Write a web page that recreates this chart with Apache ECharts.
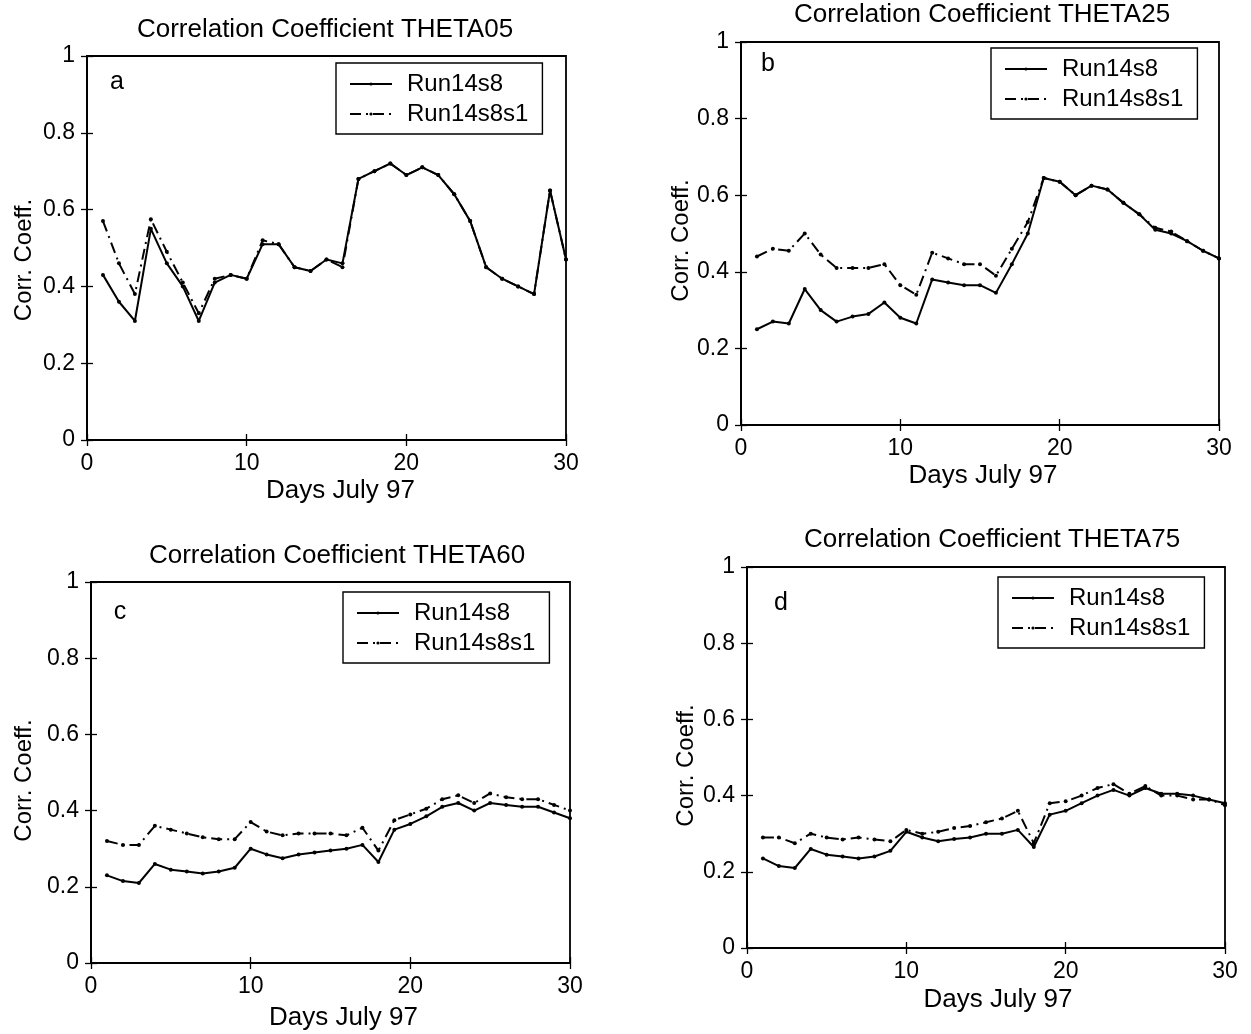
<!DOCTYPE html>
<html>
<head>
<meta charset="utf-8">
<script src="https://cdn.jsdelivr.net/npm/echarts@6/dist/echarts.min.js"></script>
<style>
  html, body { margin: 0; padding: 0; background: #fff; }
  #chart { width: 1251px; height: 1034px; }
</style>
</head>
<body>
<div id="chart"></div>
<script>
// Days of July 1997
const days = [1,2,3,4,5,6,7,8,9,10,11,12,13,14,15,16,17,18,19,20,21,22,23,24,25,26,27,28,29,30];
const xTicks = [0, 10, 20, 30];
const seriesNames = ['Run14s8', 'Run14s8s1'];
const panelTitles = ['Correlation Coefficient THETA05', 'Correlation Coefficient THETA25',
                     'Correlation Coefficient THETA60', 'Correlation Coefficient THETA75'];
const panelLetters = ['a', 'b', 'c', 'd'];

// THETA05
const theta05Run = [0.43,0.36,0.31,0.55,0.46,0.40,0.31,0.41,0.43,0.42,0.51,0.51,0.45,0.44,0.47,0.46,0.68,0.70,0.72,0.69,0.71,0.69,0.64,0.57,0.45,0.42,0.40,0.38,0.65,0.47];
const theta05RunS1 = [0.57,0.46,0.38,0.575,0.49,0.41,0.33,0.42,0.43,0.42,0.52,0.51,0.45,0.44,0.47,0.45,0.68,0.70,0.72,0.69,0.71,0.69,0.64,0.57,0.45,0.42,0.40,0.38,0.65,0.47];
// THETA25
const theta25Run = [0.25,0.27,0.265,0.355,0.30,0.27,0.283,0.29,0.32,0.28,0.265,0.38,0.372,0.365,0.365,0.345,0.42,0.50,0.645,0.635,0.60,0.625,0.615,0.58,0.55,0.51,0.50,0.48,0.455,0.435];
const theta25RunS1 = [0.44,0.46,0.455,0.50,0.445,0.41,0.41,0.41,0.42,0.365,0.34,0.45,0.435,0.42,0.42,0.39,0.46,0.53,0.645,0.635,0.60,0.625,0.615,0.58,0.55,0.515,0.505,0.48,0.455,0.435];
// THETA60
const theta60Run = [0.23,0.215,0.21,0.26,0.245,0.24,0.235,0.24,0.25,0.30,0.285,0.275,0.285,0.29,0.295,0.30,0.31,0.265,0.35,0.365,0.385,0.41,0.42,0.40,0.42,0.415,0.41,0.41,0.395,0.38];
const theta60RunS1 = [0.32,0.31,0.31,0.36,0.35,0.34,0.33,0.325,0.325,0.37,0.345,0.335,0.34,0.34,0.34,0.335,0.355,0.295,0.375,0.39,0.405,0.43,0.44,0.42,0.445,0.435,0.43,0.43,0.415,0.40];
// THETA75
const theta75Run = [0.235,0.215,0.21,0.26,0.245,0.24,0.235,0.24,0.255,0.305,0.29,0.28,0.286,0.29,0.30,0.30,0.31,0.265,0.35,0.36,0.38,0.40,0.415,0.40,0.42,0.405,0.405,0.40,0.39,0.38];
const theta75RunS1 = [0.29,0.29,0.275,0.30,0.29,0.285,0.29,0.285,0.28,0.31,0.30,0.305,0.315,0.32,0.33,0.34,0.36,0.275,0.38,0.385,0.40,0.42,0.43,0.405,0.425,0.40,0.40,0.39,0.39,0.375];

const panelData = [
  [theta05Run, theta05RunS1],
  [theta25Run, theta25RunS1],
  [theta60Run, theta60RunS1],
  [theta75Run, theta75RunS1]
];

// layout of the four axes boxes
const grids = [
  { left: 87,  top: 56,  width: 479, height: 384 },
  { left: 741, top: 42,  width: 478, height: 383 },
  { left: 91,  top: 582, width: 479, height: 381 },
  { left: 747, top: 567, width: 478, height: 381 }
];
const titlePos = [[325, 30], [982, 15], [337, 556], [992, 540]];
const letterPos = [[117, 82], [768, 64], [120, 612], [781, 603]];
const legendPos = [[336, 63], [991, 48], [343, 592], [998, 577]];
const xNameGap = [38, 38, 42, 39];
const xNameShift = [14, 3, 13, 12];
const yNameGap = [51, 48, 55, 49];
const yNameShift = [12, 7, 8, 8];

const FONT = 'Liberation Sans, Arial, Helvetica, sans-serif';
const INK = '#000';

const option = {
  animation: false,
  backgroundColor: '#fff',
  textStyle: { fontFamily: FONT, color: INK },
  grid: grids.map(g => Object.assign({ show: true, borderColor: INK, borderWidth: 1.8, containLabel: false }, g)),
  xAxis: [],
  yAxis: [],
  legend: legendPos.map(p => ({
    data: seriesNames,
    orient: 'vertical',
    left: p[0], top: p[1],
    borderColor: INK, borderWidth: 1.4, borderRadius: 0,
    padding: [9, 14, 8, 13],
    itemWidth: 42, itemHeight: 4, itemGap: 6,
    selectedMode: false,
    textStyle: { fontSize: 24, color: INK, fontFamily: FONT, padding: [0, 0, 0, 10] }
  })),
  graphic: [],
  series: []
};

grids.forEach((g, i) => {
  const axisLine = { show: true, lineStyle: { color: INK, width: 1.8 } };
  const tick = { show: true, inside: true, length: 6, lineStyle: { color: INK, width: 1.3 } };
  option.xAxis.push({
    gridIndex: i, type: 'value', min: 0, max: 30, interval: 10, position: 'bottom',
    axisLine, axisTick: tick, splitLine: { show: false },
    axisLabel: { fontSize: 23, color: INK, margin: 12, fontFamily: FONT,
                 formatter: v => xTicks.includes(v) ? String(v) : '' },
    name: 'Days July 97', nameLocation: 'middle', nameGap: xNameGap[i],
    nameTextStyle: { fontSize: 26, color: INK, fontFamily: FONT,
                     padding: [0, 0, 0, 2 * xNameShift[i]] }
  });
  option.xAxis.push({
    gridIndex: i, type: 'value', min: 0, max: 30, interval: 10, position: 'top',
    axisLine, axisTick: tick, splitLine: { show: false }, axisLabel: { show: false }
  });
  option.yAxis.push({
    gridIndex: i, type: 'value', min: 0, max: 1, interval: 0.2, position: 'left',
    axisLine, axisTick: tick, splitLine: { show: false },
    axisLabel: { fontSize: 23, color: INK, margin: 12, fontFamily: FONT },
    name: 'Corr. Coeff.', nameLocation: 'middle', nameGap: yNameGap[i], nameRotate: 90,
    nameTextStyle: { fontSize: 24, color: INK, fontFamily: FONT,
                     padding: [0, 2 * yNameShift[i], 0, 0] }
  });
  option.yAxis.push({
    gridIndex: i, type: 'value', min: 0, max: 1, interval: 0.2, position: 'right',
    axisLine, axisTick: tick, splitLine: { show: false }, axisLabel: { show: false }
  });

  const [run, runS1] = panelData[i];
  option.series.push({
    name: seriesNames[0], type: 'line', xAxisIndex: 2 * i, yAxisIndex: 2 * i,
    data: days.map((d, k) => [d, run[k]]),
    symbol: 'circle', symbolSize: 4, showSymbol: true,
    itemStyle: { color: INK },
    lineStyle: { color: INK, width: 2, type: 'solid' },
    z: 3
  });
  option.series.push({
    name: seriesNames[1], type: 'line', xAxisIndex: 2 * i, yAxisIndex: 2 * i,
    data: days.map((d, k) => [d, runS1[k]]),
    symbol: 'circle', symbolSize: 4, showSymbol: true,
    itemStyle: { color: INK },
    lineStyle: { color: INK, width: 2, type: [11, 5, 2, 5] },
    z: 2
  });

  option.graphic.push({
    type: 'text', x: titlePos[i][0], y: titlePos[i][1],
    style: { text: panelTitles[i], font: '26px ' + FONT, fill: INK, align: 'center', verticalAlign: 'middle' }
  });
  option.graphic.push({
    type: 'text', x: letterPos[i][0], y: letterPos[i][1],
    style: { text: panelLetters[i], font: '25px ' + FONT, fill: INK, align: 'center', verticalAlign: 'middle' }
  });
});

const chart = echarts.init(document.getElementById('chart'), null, { renderer: 'canvas' });
chart.setOption(option);
</script>
</body>
</html>
